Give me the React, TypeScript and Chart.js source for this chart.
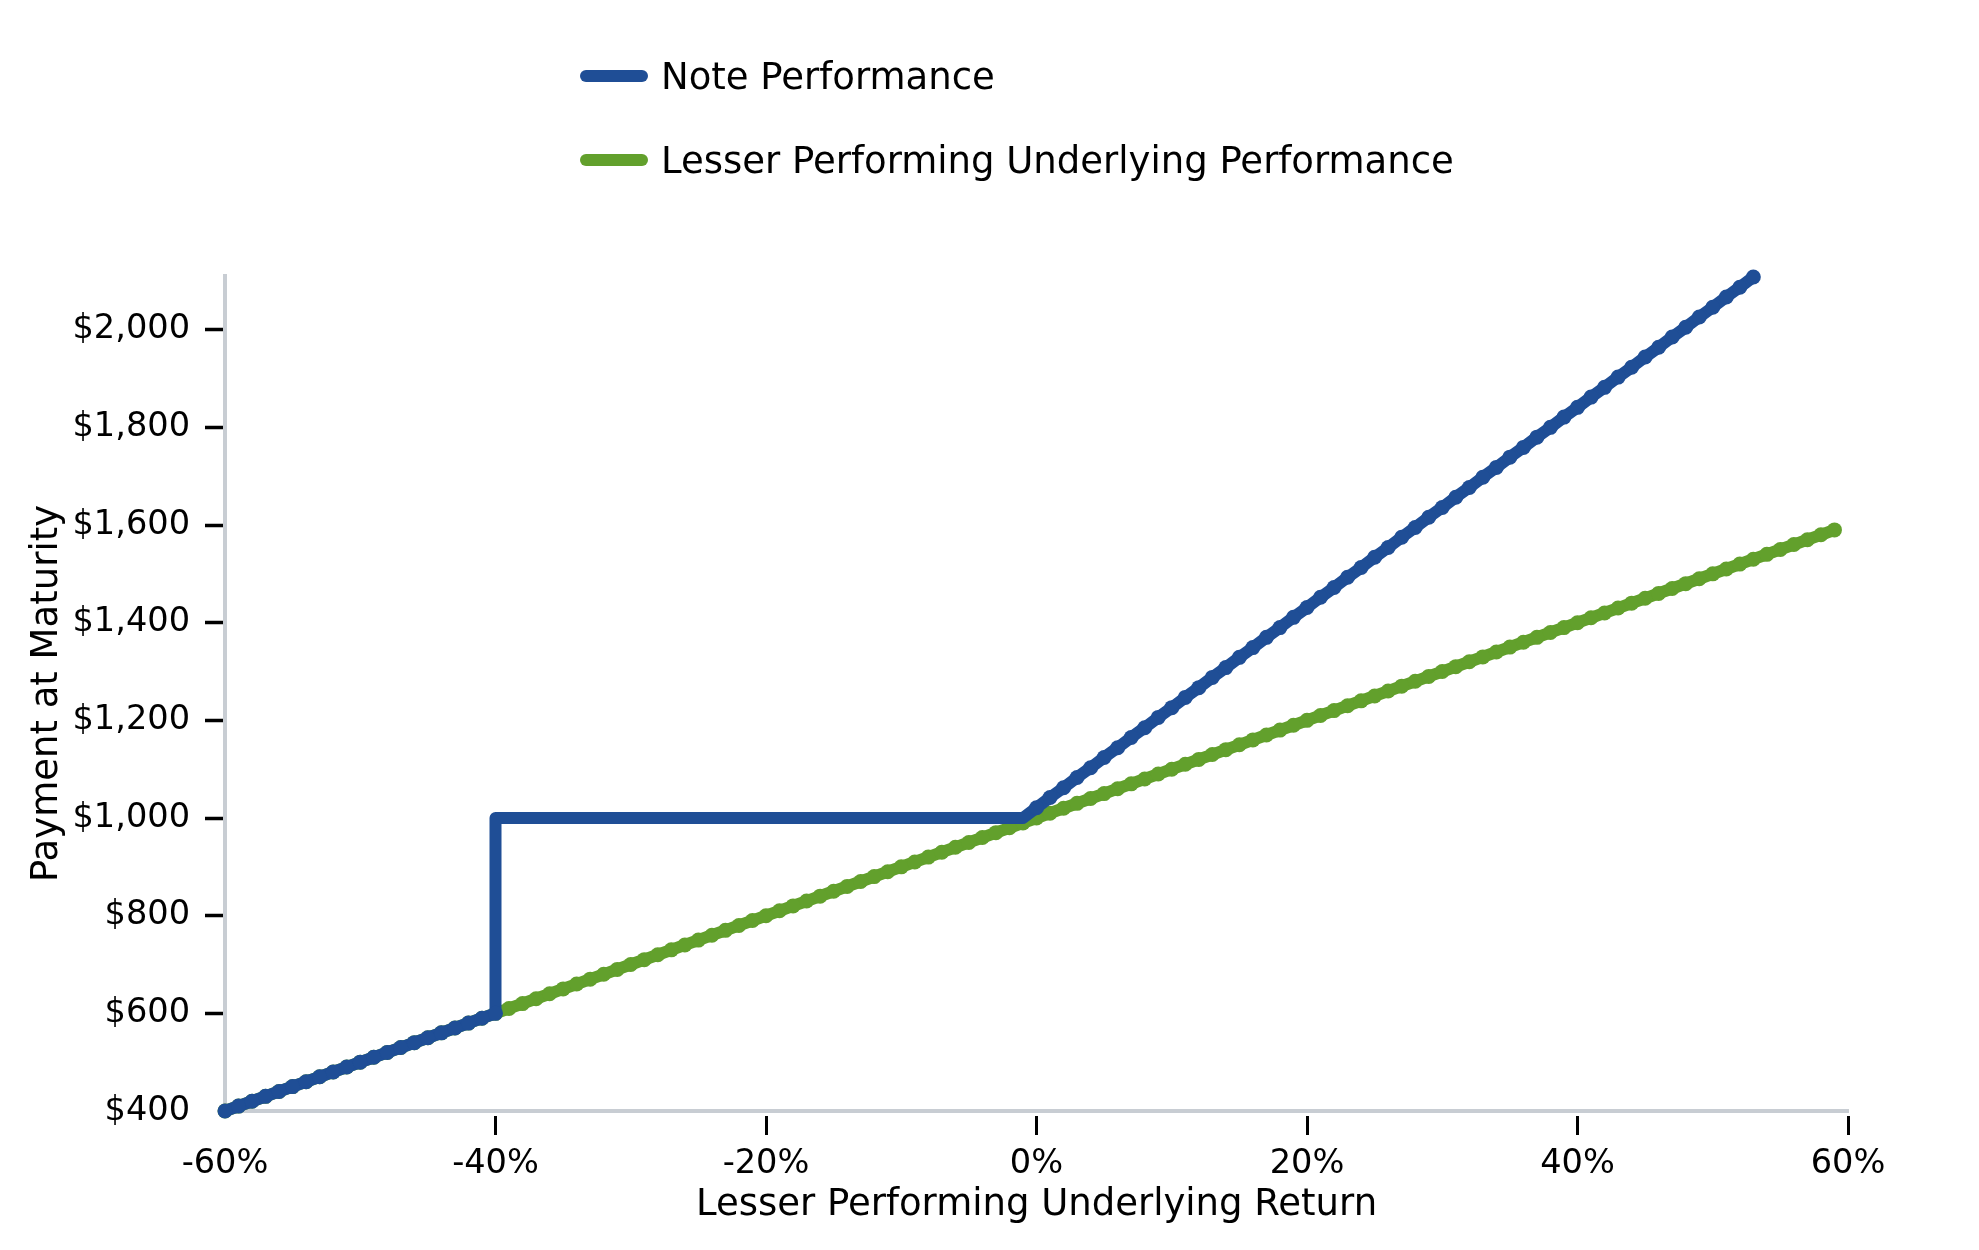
import React, { useEffect, useRef } from 'react';
import { Chart, registerables } from 'chart.js';

Chart.register(...registerables);

const seriesLabels = ['Note Performance', 'Lesser Performing Underlying Performance'];
const seriesColors = ['#1f4e96', '#62a02c'];
const xAxisTitle = 'Lesser Performing Underlying Return';
const yAxisTitle = 'Payment at Maturity';

const xTickValues = [-60, -40, -20, 0, 20, 40, 60];
const yTickValues = [400, 600, 800, 1000, 1200, 1400, 1600, 1800, 2000];

const noteReturns = [
  -60, -59, -58, -57, -56, -55, -54, -53, -52, -51, -50, -49, -48, -47, -46, -45, -44, -43, -42, -41, -40,
  -40, -1,
  0, 1, 2, 3, 4, 5, 6, 7, 8, 9, 10, 11, 12, 13, 14, 15, 16, 17, 18, 19, 20, 21, 22, 23, 24, 25,
  26, 27, 28, 29, 30, 31, 32, 33, 34, 35, 36, 37, 38, 39, 40, 41, 42, 43, 44, 45, 46, 47, 48, 49, 50, 51, 52, 53,
];
const noteValues = [
  400, 410, 420, 430, 440, 450, 460, 470, 480, 490, 500, 510, 520, 530, 540, 550, 560, 570, 580, 590, 600,
  1000, 1000,
  1021, 1042, 1062, 1083, 1103, 1124, 1144, 1165, 1185, 1206, 1226, 1247, 1267, 1288, 1308, 1329, 1349,
  1370, 1390, 1411, 1431, 1452, 1472, 1493, 1513, 1534, 1554, 1575, 1595, 1616, 1636, 1657, 1677, 1698,
  1718, 1739, 1759, 1780, 1800, 1821, 1841, 1862, 1882, 1903, 1923, 1944, 1964, 1985, 2005, 2026, 2046,
  2067, 2087, 2108,
];
// the flat stretch of the note line carries no markers
const noteMarkerHidden = [-40, -1];

const underlyingReturns = [
  -60, -59, -58, -57, -56, -55, -54, -53, -52, -51, -50, -49, -48, -47, -46, -45, -44, -43, -42, -41,
  -40, -39, -38, -37, -36, -35, -34, -33, -32, -31, -30, -29, -28, -27, -26, -25, -24, -23, -22, -21,
  -20, -19, -18, -17, -16, -15, -14, -13, -12, -11, -10, -9, -8, -7, -6, -5, -4, -3, -2, -1,
  0, 1, 2, 3, 4, 5, 6, 7, 8, 9, 10, 11, 12, 13, 14, 15, 16, 17, 18, 19,
  20, 21, 22, 23, 24, 25, 26, 27, 28, 29, 30, 31, 32, 33, 34, 35, 36, 37, 38, 39,
  40, 41, 42, 43, 44, 45, 46, 47, 48, 49, 50, 51, 52, 53, 54, 55, 56, 57, 58, 59,
];
const underlyingValues = [
  400, 410, 420, 430, 440, 450, 460, 470, 480, 490, 500, 510, 520, 530, 540, 550, 560, 570, 580, 590,
  600, 610, 620, 630, 640, 650, 660, 670, 680, 690, 700, 710, 720, 730, 740, 750, 760, 770, 780, 790,
  800, 810, 820, 830, 840, 850, 860, 870, 880, 890, 900, 910, 920, 930, 940, 950, 960, 970, 980, 990,
  1000, 1010, 1020, 1030, 1040, 1050, 1060, 1070, 1080, 1090, 1100, 1110, 1120, 1130, 1140, 1150, 1160, 1170, 1180, 1190,
  1200, 1210, 1220, 1230, 1240, 1250, 1260, 1270, 1280, 1290, 1300, 1310, 1320, 1330, 1340, 1350, 1360, 1370, 1380, 1390,
  1400, 1410, 1420, 1430, 1440, 1450, 1460, 1470, 1480, 1490, 1500, 1510, 1520, 1530, 1540, 1550, 1560, 1570, 1580, 1590,
];

const FONT = '"DejaVu Sans", sans-serif';
const AXIS_COLOR = '#c8cdd3';
const LINE_WIDTH = 12;
const MARKER_RADIUS = 7.5;

export default function App() {
  const canvasRef = useRef<HTMLCanvasElement | null>(null);

  useEffect(() => {
    document.body.style.margin = '0';
    document.body.style.overflow = 'hidden';
    const canvas = canvasRef.current;
    if (!canvas) return;

    const tickColor = (ctx: any) => (ctx.index === 0 ? 'rgba(0,0,0,0)' : '#000000');

    const notePointRadius = (ctx: any) => {
      const raw = ctx.raw;
      if (raw && raw.y === 1000 && noteMarkerHidden.indexOf(raw.x) >= 0) return 0;
      return MARKER_RADIUS;
    };

    const chart = new Chart(canvas, {
      type: 'line',
      data: {
        datasets: [
          {
            label: seriesLabels[0],
            data: noteReturns.map((x, i) => ({ x, y: noteValues[i] })),
            borderColor: seriesColors[0],
            backgroundColor: seriesColors[0],
            pointBackgroundColor: seriesColors[0],
            pointBorderWidth: 0,
            pointRadius: notePointRadius,
            borderWidth: LINE_WIDTH,
            borderJoinStyle: 'round',
            tension: 0,
            clip: false,
          },
          {
            label: seriesLabels[1],
            data: underlyingReturns.map((x, i) => ({ x, y: underlyingValues[i] })),
            borderColor: seriesColors[1],
            backgroundColor: seriesColors[1],
            pointBackgroundColor: seriesColors[1],
            pointBorderWidth: 0,
            pointRadius: MARKER_RADIUS,
            borderWidth: LINE_WIDTH,
            borderJoinStyle: 'round',
            tension: 0,
            clip: false,
          },
        ],
      },
      options: {
        animation: false,
        responsive: false,
        devicePixelRatio: 1,
        layout: { padding: { left: 25, right: 131, top: 276, bottom: 22 } },
        plugins: {
          legend: { display: false },
          tooltip: { enabled: false },
        },
        scales: {
          x: {
            type: 'linear',
            min: -60,
            max: 60,
            afterBuildTicks: (scale: any) => {
              scale.ticks = xTickValues.map((v) => ({ value: v }));
            },
            afterFit: (scale: any) => {
              scale.height = 117;
            },
            border: { display: true, color: AXIS_COLOR, width: 4 },
            grid: {
              drawOnChartArea: false,
              drawTicks: true,
              tickLength: 24,
              tickWidth: 3,
              tickColor,
              tickBorderDash: [0, 3, 21, 200],
            },
            ticks: {
              color: '#000000',
              font: { family: FONT, size: 33.6, lineHeight: 1 },
              padding: 12,
              maxRotation: 0,
              autoSkip: false,
              callback: (v: any) => `${v}%`,
            },
            title: {
              display: true,
              text: xAxisTitle,
              color: '#000000',
              font: { family: FONT, size: 37, lineHeight: 1.2 },
              padding: { top: 0, bottom: 0 },
            },
          },
          y: {
            type: 'linear',
            min: 400,
            max: 2110,
            afterBuildTicks: (scale: any) => {
              scale.ticks = yTickValues.map((v) => ({ value: v }));
            },
            afterFit: (scale: any) => {
              scale.width = 200;
            },
            border: { display: true, color: AXIS_COLOR, width: 4 },
            grid: {
              drawOnChartArea: false,
              drawTicks: true,
              tickLength: 23,
              tickWidth: 3.5,
              tickColor,
              tickBorderDash: [0, 3, 20, 200],
            },
            ticks: {
              color: '#000000',
              font: { family: FONT, size: 33.6, lineHeight: 1 },
              padding: 12,
              autoSkip: false,
              callback: (v: any) => '$' + Number(v).toLocaleString('en-US'),
            },
            title: {
              display: true,
              text: yAxisTitle,
              color: '#000000',
              font: { family: FONT, size: 37, lineHeight: 1.2 },
              padding: { top: 0, bottom: 0 },
            },
          },
        },
      },
    } as any);

    return () => {
      chart.destroy();
    };
  }, []);

  const legendRow = (i: number, centerY: number) => (
    <div
      key={i}
      style={{
        position: 'absolute',
        left: 580,
        top: centerY - 25,
        height: 50,
        display: 'flex',
        alignItems: 'center',
        fontFamily: FONT,
        fontSize: 37,
        color: '#000000',
        whiteSpace: 'nowrap',
      }}
    >
      <div
        style={{
          width: 68,
          height: 12,
          borderRadius: 6,
          background: seriesColors[i],
          marginRight: 13,
        }}
      />
      <span>{seriesLabels[i]}</span>
    </div>
  );

  return (
    <div style={{ position: 'relative', width: 1979, height: 1250, background: '#ffffff' }}>
      <canvas ref={canvasRef} width={1979} height={1250} style={{ display: 'block', width: 1979, height: 1250 }} />
      {legendRow(0, 76)}
      {legendRow(1, 160)}
    </div>
  );
}
